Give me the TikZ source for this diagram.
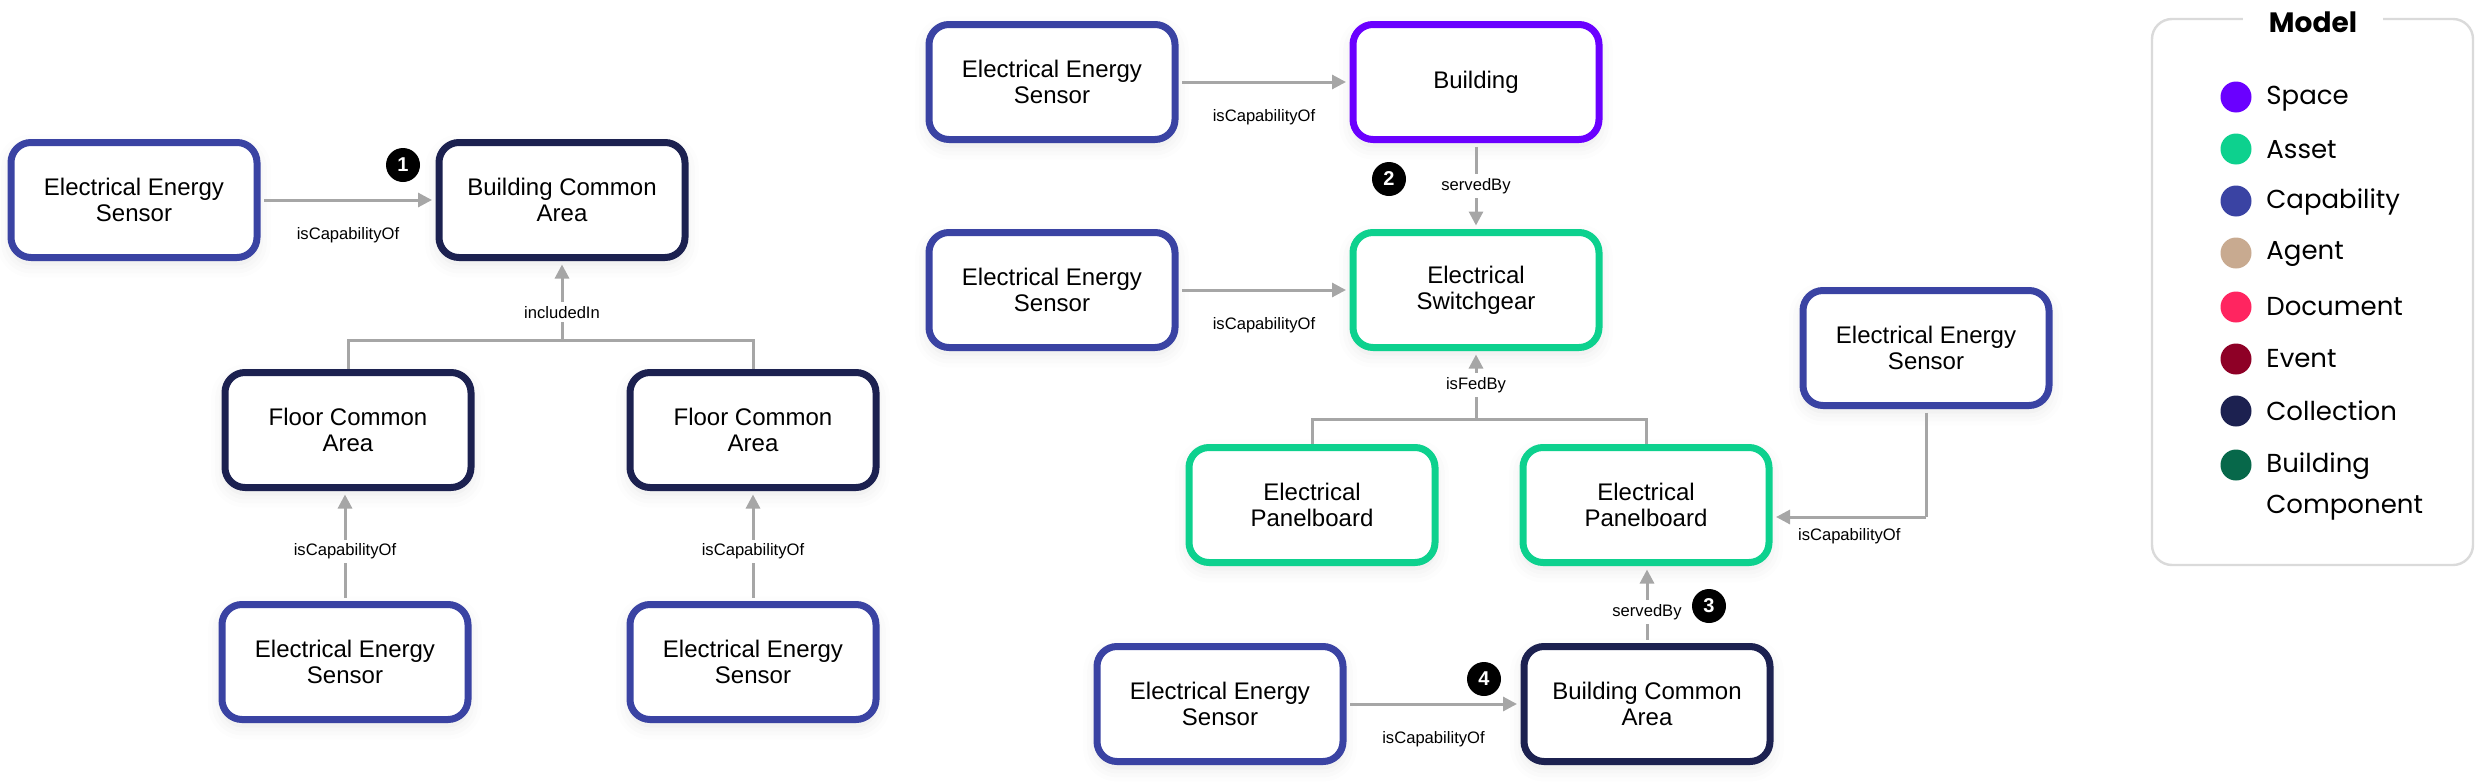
\documentclass[tikz,border=0pt]{standalone}
\usepackage{fontspec}
\setmainfont{Liberation Sans}
\newfontfamily\legendfont{Poppins}
\usetikzlibrary{arrows.meta,shadows.blur}
\definecolor{capab}{HTML}{3A43A3}
\definecolor{collec}{HTML}{1C2150}
\definecolor{spacec}{HTML}{6A00FF}
\definecolor{assetc}{HTML}{0DD18E}
\definecolor{agentc}{HTML}{C8AA90}
\definecolor{docuc}{HTML}{FF2560}
\definecolor{eventc}{HTML}{8E0026}
\definecolor{bcompc}{HTML}{07684A}
\definecolor{edgegray}{HTML}{A6A6A6}
\definecolor{legborder}{HTML}{DADADA}
\tikzset{
  box/.style={draw=#1, line width=3.5pt, rounded corners=10pt, fill=white,
    minimum width=123pt, minimum height=57.5pt, align=center,
    font=\fontsize{12}{13}\selectfont,
    blur shadow={shadow xshift=0pt, shadow yshift=-3pt, shadow blur radius=7pt, shadow opacity=10}},
  elabel/.style={font=\fontsize{8.3}{9}\selectfont, fill=white, inner sep=2pt},
  arr/.style={draw=edgegray, line width=1.5pt, -{Triangle[length=7pt,width=7pt]},
    shorten <=1.75pt, shorten >=1.75pt},
  ln/.style={draw=edgegray, line width=1.5pt},
  badge/.style={circle, fill=black, text=white, font=\bfseries\fontsize{10}{10}\selectfont,
    minimum size=17pt, inner sep=0pt},
  ldot/.style={circle, fill=#1, minimum size=15.5pt, inner sep=0pt},
  ltext/.style={anchor=west, font=\legendfont\fontsize{13}{20.5}\selectfont, inner sep=0pt, align=left},
}
\begin{document}
\begin{tikzpicture}[x=0.5pt,y=-0.5pt]
\useasboundingbox (0,0) rectangle (2481,782);

% ---------- left cluster ----------
\node[box=capab]  (s1)   at (134,200) {Electrical Energy\\Sensor};
\node[box=collec] (bca1) at (562,200) {Building Common\\Area};
\node[box=collec] (fca1) at (348,430) {Floor Common\\Area};
\node[box=collec] (fca2) at (753,430) {Floor Common\\Area};
\node[box=capab]  (s2)   at (345,662) {Electrical Energy\\Sensor};
\node[box=capab]  (s3)   at (753,662) {Electrical Energy\\Sensor};
\node[badge] (b1) at (403,165) {1};

\draw[arr] (s1.east) -- node[elabel, below=11pt] {isCapabilityOf} (s1.east -| bca1.west);
\coordinate (j1) at (562,340);
\draw[ln] (fca1.north) |- (j1) -| (fca2.north);
\draw[arr, shorten <=0pt] (j1) -- node[elabel, pos=0.35] {includedIn} (bca1.south);
\draw[arr] (s2.north) -- node[elabel, pos=0.45] {isCapabilityOf} (s2.north |- fca1.south);
\draw[arr] (s3.north) -- node[elabel, pos=0.45] {isCapabilityOf} (s3.north |- fca2.south);

% ---------- middle cluster ----------
\node[box=capab]  (s4)  at (1052,82)  {Electrical Energy\\Sensor};
\node[box=spacec] (bld) at (1476,82)  {Building};
\node[box=capab]  (s5)  at (1052,290) {Electrical Energy\\Sensor};
\node[box=assetc] (sw)  at (1476,290) {Electrical\\Switchgear};
\node[box=assetc] (pb1) at (1312,505) {Electrical\\Panelboard};
\node[box=assetc] (pb2) at (1646,505) {Electrical\\Panelboard};
\node[box=capab]  (s6)  at (1926,348) {Electrical Energy\\Sensor};
\node[box=capab]  (s7)  at (1220,704) {Electrical Energy\\Sensor};
\node[box=collec] (bca2) at (1647,704) {Building Common\\Area};

\draw[arr] (s4.east) -- node[elabel, below=11pt] {isCapabilityOf} (s4.east -| bld.west);
\draw[arr] (bld.south) -- node[elabel] (sb2) {servedBy} (sw.north);
\node[badge] (b2) at (1389,179) {2};
\draw[arr] (s5.east) -- node[elabel, below=11pt] {isCapabilityOf} (s5.east -| sw.west);
\coordinate (j2) at (1476,419);
\draw[ln] (pb1.north) |- (j2) -| (pb2.north);
\draw[arr, shorten <=0pt] (j2) -- node[elabel] {isFedBy} (sw.south);
\coordinate (c6) at (1926,517);
\draw[ln, shorten <=1.75pt] (s6.south) -- (c6);
\draw[arr, shorten <=0pt] (c6) -- node[elabel, below=3pt] {isCapabilityOf} (c6 -| pb2.east);
\draw[arr] (bca2.north) -- node[elabel, pos=0.4] (sb3) {servedBy} (bca2.north |- pb2.south);
\node[badge] (b3) at (1709,606) {3};
\draw[arr] (s7.east) -- node[elabel, below=11pt] {isCapabilityOf} (s7.east -| bca2.west);
\node[badge] (b4) at (1484,679) {4};

% ---------- legend ----------
\draw[legborder, line width=1.2pt, rounded corners=10pt] (2152,19) rectangle (2473,565);
\node[fill=white, font=\legendfont\bfseries\fontsize{14}{14}\selectfont, inner xsep=13pt, inner ysep=2pt] (lt) at (2313,22) {Model};
\node[ldot=spacec] (d1) at (2236,97)  {};  \node[ltext] (t1) at (2266,99)  {Space};
\node[ldot=assetc] (d2) at (2236,149) {};  \node[ltext] (t2) at (2266,150) {Asset};
\node[ldot=capab]  (d3) at (2236,201) {};  \node[ltext] (t3) at (2266,202) {Capability};
\node[ldot=agentc] (d4) at (2236,253) {};  \node[ltext] (t4) at (2266,254) {Agent};
\node[ldot=docuc]  (d5) at (2236,307) {};  \node[ltext] (t5) at (2266,307) {Document};
\node[ldot=eventc] (d6) at (2236,359) {};  \node[ltext] (t6) at (2266,359) {Event};
\node[ldot=collec] (d7) at (2236,411) {};  \node[ltext] (t7) at (2266,411) {Collection};
\node[ldot=bcompc] (d8) at (2236,465) {};  \node[ltext] (t8) at (2266,486) {Building\\Component};
\end{tikzpicture}
\end{document}
